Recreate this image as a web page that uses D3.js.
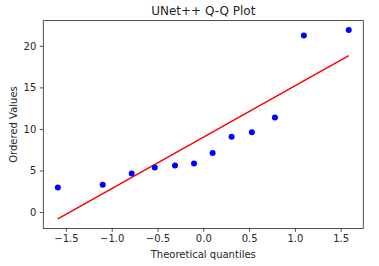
<!DOCTYPE html>
<html>
<head>
<meta charset="utf-8">
<script src="https://cdn.jsdelivr.net/npm/d3@7"></script>
<style>
html, body { margin: 0; padding: 0; background: #fff; }
svg { display: block; }
text { font-family: "DejaVu Sans", sans-serif; }
</style>
</head>
<body>
<svg id="chart" width="379" height="266"></svg>
<script>
// Theoretical quantiles (x) and ordered values (y)
const theoreticalQuantiles = [-1.588, -1.098, -0.782, -0.530, -0.309, -0.1015, 0.1015, 0.309, 0.530, 0.782, 1.098, 1.588];
const orderedValues = [2.96, 3.28, 4.64, 5.36, 5.60, 5.84, 7.09, 9.05, 9.61, 11.37, 21.23, 21.90];
const xTicks = [-1.5, -1.0, -0.5, 0.0, 0.5, 1.0, 1.5];
const yTicks = [0, 5, 10, 15, 20];
const titleText = "UNet++ Q-Q Plot";
const xLabel = "Theoretical quantiles";
const yLabel = "Ordered Values";

(function () {
const svg = d3.select("#chart");
const pLeft = 43.3, pRight = 363.3, pTop = 20.6, pBottom = 228.4;

// least-squares fit line
const n = theoreticalQuantiles.length;
const mx = d3.mean(theoreticalQuantiles), my = d3.mean(orderedValues);
let sxy = 0, sxx = 0;
for (let i = 0; i < n; i++) {
  sxy += (theoreticalQuantiles[i] - mx) * (orderedValues[i] - my);
  sxx += (theoreticalQuantiles[i] - mx) ** 2;
}
const slope = sxy / sxx, intercept = my - slope * mx;
const xmin = d3.min(theoreticalQuantiles), xmax = d3.max(theoreticalQuantiles);
const fitLine = [[xmin, slope * xmin + intercept], [xmax, slope * xmax + intercept]];

const xr = xmax - xmin;
const x = d3.scaleLinear().domain([xmin - 0.05 * xr, xmax + 0.05 * xr]).range([pLeft, pRight]);
const allY = orderedValues.concat(fitLine.map(d => d[1]));
const ylo = d3.min(allY), yhi = d3.max(allY), yr = yhi - ylo;
const y = d3.scaleLinear().domain([ylo - 0.05 * yr, yhi + 0.05 * yr]).range([pBottom, pTop]);

const textColor = "#262626";

// axes
const xAxis = svg.append("g").attr("transform", `translate(0,${pBottom})`)
  .call(d3.axisBottom(x).tickValues(xTicks).tickSizeOuter(0).tickSize(3.5).tickPadding(3.5)
    .tickFormat(d => d3.format(".1f")(d).replace("-", "\u2212")));
const yAxis = svg.append("g").attr("transform", `translate(${pLeft},0)`)
  .call(d3.axisLeft(y).tickValues(yTicks).tickSizeOuter(0).tickSize(3.5).tickPadding(3.5));
[xAxis, yAxis].forEach(a => {
  a.select(".domain").remove();
  a.selectAll(".tick line").attr("stroke", textColor).attr("stroke-width", 0.8);
  a.selectAll(".tick text").attr("fill", textColor).attr("font-size", 10)
    .attr("font-family", "DejaVu Sans, sans-serif");
});

// fit line
svg.append("path")
  .datum(fitLine)
  .attr("d", d3.line().x(d => x(d[0])).y(d => y(d[1])))
  .attr("fill", "none").attr("stroke", "#ff0000").attr("stroke-width", 1.5);

// points
svg.append("g").selectAll("circle")
  .data(theoreticalQuantiles.map((q, i) => [q, orderedValues[i]]))
  .join("circle")
  .attr("cx", d => x(d[0])).attr("cy", d => y(d[1])).attr("r", 3)
  .attr("fill", "#0000ff");

// frame
svg.append("rect").attr("x", pLeft).attr("y", pTop)
  .attr("width", pRight - pLeft).attr("height", pBottom - pTop)
  .attr("fill", "none").attr("stroke", textColor).attr("stroke-width", 0.8);

// texts
svg.append("text").attr("x", (pLeft + pRight) / 2).attr("y", pTop - 5.5)
  .attr("text-anchor", "middle").attr("font-size", 12).attr("fill", textColor).text(titleText);
svg.append("text").attr("x", (pLeft + pRight) / 2).attr("y", 258)
  .attr("text-anchor", "middle").attr("font-size", 10).attr("fill", textColor).text(xLabel);
svg.append("text").attr("transform", `translate(17,${(pTop + pBottom) / 2}) rotate(-90)`)
  .attr("text-anchor", "middle").attr("font-size", 10).attr("fill", textColor).text(yLabel);
})();
</script>
</body>
</html>
